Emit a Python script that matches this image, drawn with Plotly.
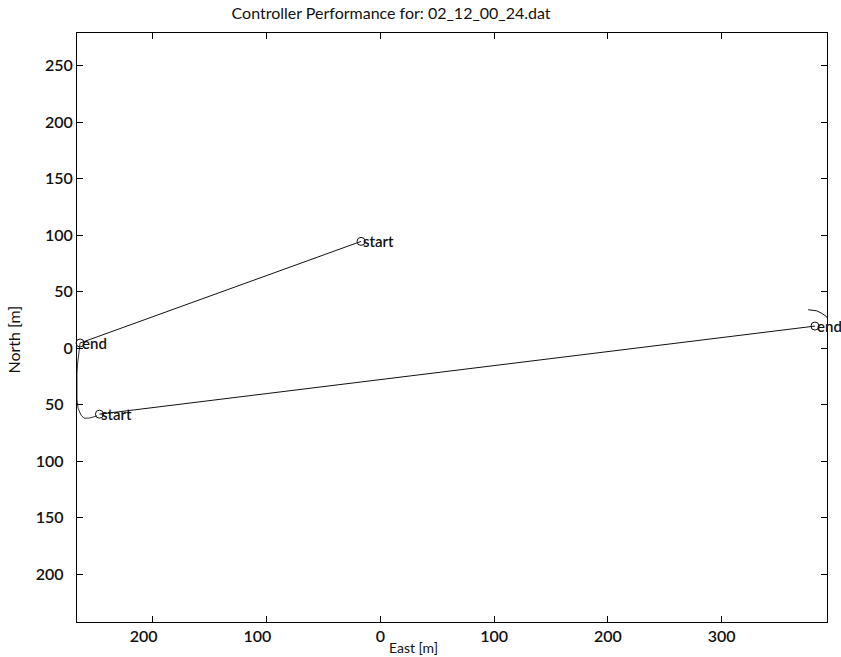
import plotly.graph_objects as go

# Straight legs between waypoints (East, North in metres)
leg1_east = [-17, -264]
leg1_north = [94.5, 4.5]
leg2_east = [-247, 382]
leg2_north = [-58.5, 19.5]

# Vehicle track hugging the western edge
edge_east = [-264, -265.3, -266.2, -266.7, -266.7, -265.8, -263.2, -260.6, -256, -249]
edge_north = [4.5, -4.4, -14, -22, -46, -53, -59.3, -62, -62, -60]

# Turn past the eastern waypoint
turn_east = [376, 383.6, 388.5, 392.4, 395]
turn_north = [34, 33, 30.5, 27.7, 22]

# Waypoint labels
mark_east = [-17, -264, -247, 382]
mark_north = [94.5, 4.5, -58.5, 19.5]
mark_text = ["start", "end", "start", "end"]

x_tickvals = [-200, -100, 0, 100, 200, 300]
x_ticktext = ["200\u2007\u2007", "100\u2007\u2007", "0", "100", "200", "300"]
y_tickvals = [-200, -150, -100, -50, 0, 50, 100, 150, 200, 250]
y_ticktext = ["200\u2007", "150\u2007", "100\u2007", "50\u2007", "0", "50", "100", "150", "200", "250"]

FONT = "Lato, 'Open Sans', sans-serif"
INK = "#111111"
line_style = dict(color=INK, width=1)

fig = go.Figure()
fig.add_trace(go.Scatter(x=leg1_east, y=leg1_north, mode="lines", line=line_style))
fig.add_trace(go.Scatter(x=leg2_east, y=leg2_north, mode="lines", line=line_style))
fig.add_trace(go.Scatter(x=edge_east, y=edge_north, mode="lines",
                         line=dict(color="#333333", width=1)))
fig.add_trace(go.Scatter(x=turn_east, y=turn_north, mode="lines", line=line_style))
fig.add_trace(go.Scatter(
    x=mark_east, y=mark_north, mode="markers",
    marker=dict(symbol="circle-open", size=8, color=INK, line=dict(width=1)),
    cliponaxis=False,
))

# Waypoint names sit right against their markers
for ex, nx, label in zip(mark_east, mark_north, mark_text):
    fig.add_annotation(x=ex, y=nx, xref="x", yref="y", text=label, showarrow=False,
                       xanchor="left", yanchor="middle", xshift=0, yshift=0,
                       font=dict(family=FONT, size=15, color=INK, weight=600))

# Axis names
fig.add_annotation(x=0.449, y=-0.043, xref="paper", yref="paper", text="East [m]",
                   showarrow=False, xanchor="center", yanchor="middle",
                   font=dict(family=FONT, size=14, color=INK))
fig.add_annotation(x=-0.085, y=0.48, xref="paper", yref="paper", text="North [m]",
                   showarrow=False, xanchor="center", yanchor="middle", textangle=-90,
                   font=dict(family=FONT, size=16, color=INK))

axis_common = dict(
    showgrid=False, zeroline=False, showline=True, linecolor="black", linewidth=1,
    mirror="ticks", ticks="inside", ticklen=6, tickwidth=1, tickcolor="black",
    tickfont=dict(family=FONT, size=16, color=INK, weight=600),
)

fig.update_layout(
    width=841, height=657,
    margin=dict(l=77, r=14, t=33, b=35),
    paper_bgcolor="white", plot_bgcolor="white",
    showlegend=False,
    font=dict(family=FONT, color=INK),
    title=dict(text="Controller Performance for: 02_12_00_24.dat",
               x=0.465, xanchor="center", y=0.988, yanchor="top",
               font=dict(family=FONT, size=16, color=INK)),
    xaxis=dict(range=[-266.7, 392.6], tickvals=x_tickvals, ticktext=x_ticktext,
               **axis_common),
    yaxis=dict(range=[-242.5, 279], tickvals=y_tickvals, ticktext=y_ticktext,
               **axis_common),
)

fig.write_html("out.html")
